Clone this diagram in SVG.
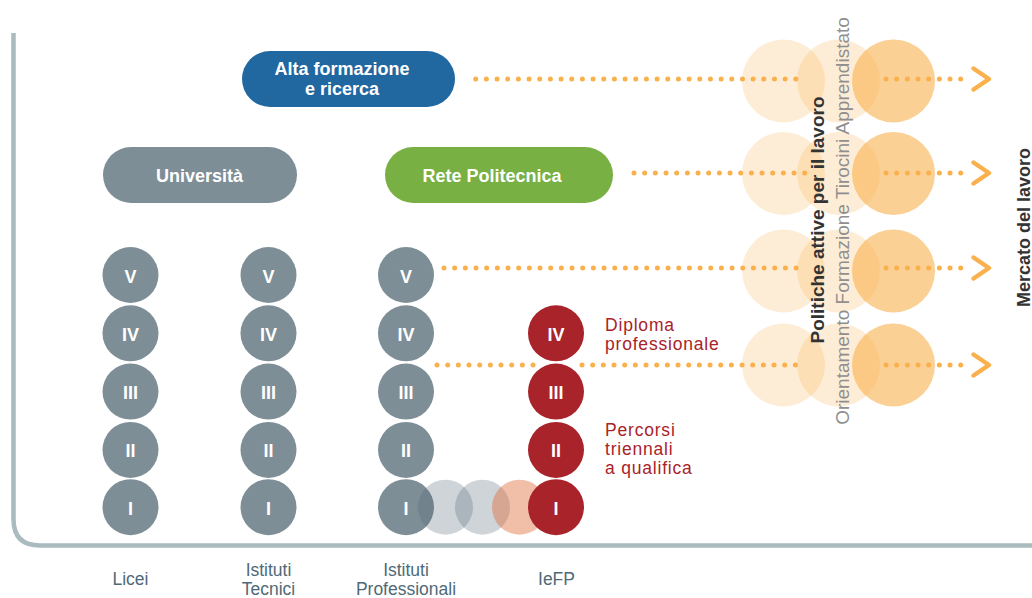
<svg xmlns="http://www.w3.org/2000/svg" width="1032" height="598" viewBox="0 0 1032 598">
<defs>
<style>
.pill-t{font-family:"Liberation Sans",Arial,sans-serif;font-weight:bold;font-size:18px;fill:#fff;text-anchor:middle}
.num{font-family:"Liberation Sans",Arial,sans-serif;font-weight:bold;font-size:18px;fill:#fff;text-anchor:middle}
.grey{fill:#7e8e97}
.red{fill:#a8232a}
.lbl{font-family:"Liberation Sans",Arial,sans-serif;font-size:17.5px;fill:#4f6a77;text-anchor:middle}
.redt{font-family:"Liberation Sans",Arial,sans-serif;font-size:17.5px;fill:#a8232a;letter-spacing:0.8px}
.dots{stroke:#f9b04d;stroke-width:5;stroke-linecap:round;stroke-dasharray:0 10.67;fill:none}
.arr{stroke:#f9b04d;stroke-width:4.5;stroke-linecap:round;stroke-linejoin:round;fill:none}
.c1{fill:#f9b04d;fill-opacity:0.23}
.c3{fill:#f9b04d;fill-opacity:0.6}
.tg{fill:#4f6473;fill-opacity:0.28}
.ts{fill:#e06f3f;fill-opacity:0.45}
</style>
<linearGradient id="fade" gradientUnits="userSpaceOnUse" x1="444" y1="0" x2="528" y2="0">
<stop offset="0" stop-color="#fde3bd"/>
<stop offset="1" stop-color="#f9b04d"/>
</linearGradient>
</defs>
<rect width="1032" height="598" fill="#fff"/>

<!-- axis -->
<path d="M13.5,33 V519 Q13.5,545.5 40,545.5 H1032" fill="none" stroke="#a9bbbe" stroke-width="4.5"/>

<!-- right circles -->
<g id="policy-circles">
<circle class="c1" cx="783.5" cy="81" r="41.5"/><circle class="c1" cx="838.5" cy="81" r="41.5"/><circle class="c3" cx="893.5" cy="81" r="41.5"/>
<circle class="c1" cx="783.5" cy="173.5" r="41.5"/><circle class="c1" cx="838.5" cy="173.5" r="41.5"/><circle class="c3" cx="893.5" cy="173.5" r="41.5"/>
<circle class="c1" cx="783.5" cy="271" r="41.5"/><circle class="c1" cx="838.5" cy="271" r="41.5"/><circle class="c3" cx="893.5" cy="271" r="41.5"/>
<circle class="c1" cx="783.5" cy="365" r="41.5"/><circle class="c1" cx="838.5" cy="365" r="41.5"/><circle class="c3" cx="893.5" cy="365" r="41.5"/>
</g>

<!-- connectors -->
<g id="connectors">
<line class="dots" x1="475.7" y1="79" x2="805" y2="79"/>
<line class="dots" x1="886" y1="79" x2="963" y2="79"/>
<path class="arr" d="M973.5,68.5 L989,79 L973.5,89.5"/>

<line class="dots" x1="634" y1="173" x2="805" y2="173"/>
<line class="dots" x1="886" y1="173" x2="963" y2="173"/>
<path class="arr" d="M973.5,162.5 L989,173 L973.5,183.5"/>

<line class="dots" x1="444" y1="268" x2="805" y2="268" stroke="url(#fade)"/>
<line class="dots" x1="886" y1="268" x2="963" y2="268"/>
<path class="arr" d="M973.5,257.5 L989,268 L973.5,278.5"/>

<line class="dots" x1="437" y1="365" x2="534" y2="365"/>
<line class="dots" x1="582" y1="365" x2="805" y2="365"/>
<line class="dots" x1="886" y1="365" x2="963" y2="365"/>
<path class="arr" d="M973.5,354.5 L989,365 L973.5,375.5"/>
</g>

<!-- pills -->
<g id="alta-formazione">
<rect x="242" y="51" width="213" height="56" rx="28" fill="#2167a0"/>
<text class="pill-t" x="342" y="75">Alta formazione</text>
<text class="pill-t" x="342" y="95">e ricerca</text>
</g>
<g id="universita">
<rect x="103" y="147" width="194" height="56" rx="28" fill="#7e8e97"/>
<text class="pill-t" x="199.5" y="181.5">Università</text>
</g>
<g id="rete-politecnica">
<rect x="385" y="147" width="228" height="56" rx="28" fill="#78b043"/>
<text class="pill-t" x="492" y="182">Rete Politecnica</text>
</g>

<!-- Licei -->
<g id="licei">
<circle class="grey" cx="130.5" cy="275" r="28"/><text class="num" x="130.5" y="282.5">V</text>
<circle class="grey" cx="130.5" cy="333.3" r="28"/><text class="num" x="130.5" y="340.8">IV</text>
<circle class="grey" cx="130.5" cy="391.6" r="28"/><text class="num" x="130.5" y="399.1">III</text>
<circle class="grey" cx="130.5" cy="449.9" r="28"/><text class="num" x="130.5" y="457.4">II</text>
<circle class="grey" cx="130.5" cy="507.2" r="28"/><text class="num" x="130.5" y="514.7">I</text>
</g>
<!-- Tecnici -->
<g id="istituti-tecnici">
<circle class="grey" cx="268.5" cy="275" r="28"/><text class="num" x="268.5" y="282.5">V</text>
<circle class="grey" cx="268.5" cy="333.3" r="28"/><text class="num" x="268.5" y="340.8">IV</text>
<circle class="grey" cx="268.5" cy="391.6" r="28"/><text class="num" x="268.5" y="399.1">III</text>
<circle class="grey" cx="268.5" cy="449.9" r="28"/><text class="num" x="268.5" y="457.4">II</text>
<circle class="grey" cx="268.5" cy="507.2" r="28"/><text class="num" x="268.5" y="514.7">I</text>
</g>
<!-- Professionali -->
<g id="istituti-professionali">
<circle class="grey" cx="406" cy="275" r="28"/><text class="num" x="406" y="282.5">V</text>
<circle class="grey" cx="406" cy="333.3" r="28"/><text class="num" x="406" y="340.8">IV</text>
<circle class="grey" cx="406" cy="391.6" r="28"/><text class="num" x="406" y="399.1">III</text>
<circle class="grey" cx="406" cy="449.9" r="28"/><text class="num" x="406" y="457.4">II</text>
<circle class="grey" cx="406" cy="507.2" r="28"/><text class="num" x="406" y="514.7">I</text>
</g>
<!-- transition -->
<g id="passaggio">
<circle class="tg" cx="445.5" cy="507.2" r="27.5"/>
<circle class="tg" cx="482.5" cy="507.2" r="27.5"/>
<circle class="ts" cx="519.5" cy="507.2" r="27.5"/>
</g>
<!-- IeFP -->
<g id="iefp">
<circle class="red" cx="556" cy="333.3" r="28"/><text class="num" x="556" y="340.8">IV</text>
<circle class="red" cx="556" cy="391.6" r="28"/><text class="num" x="556" y="399.1">III</text>
<circle class="red" cx="556" cy="449.9" r="28"/><text class="num" x="556" y="457.4">II</text>
<circle class="red" cx="556" cy="507.2" r="28"/><text class="num" x="556" y="514.7">I</text>
</g>

<g id="red-labels">
<text class="redt" x="605" y="330.5">Diploma</text>
<text class="redt" x="605" y="349.5">professionale</text>
<text class="redt" x="605" y="436">Percorsi</text>
<text class="redt" x="605" y="455">triennali</text>
<text class="redt" x="605" y="474">a qualifica</text>
</g>

<g id="bottom-labels">
<text class="lbl" x="130.5" y="585">Licei</text>
<text class="lbl" x="268.5" y="576">Istituti</text>
<text class="lbl" x="268.5" y="595">Tecnici</text>
<text class="lbl" x="406" y="576">Istituti</text>
<text class="lbl" x="406" y="595">Professionali</text>
<text class="lbl" x="556.5" y="585">IeFP</text>
</g>

<g id="vertical-labels">
<text transform="translate(824,220) rotate(-90)" font-family="Liberation Sans, Arial, sans-serif" font-weight="bold" font-size="19" fill="#333" text-anchor="middle">Politiche attive per il lavoro</text>
<text transform="translate(849,221) rotate(-90)" font-family="Liberation Sans, Arial, sans-serif" font-size="19" fill="#8f8f8f" text-anchor="middle">Orientamento Formazione Tirocini Apprendistato</text>
<text transform="translate(1030,227.5) rotate(-90)" font-family="Liberation Sans, Arial, sans-serif" font-weight="bold" font-size="18" fill="#333" text-anchor="middle">Mercato del lavoro</text>
</g>
</svg>
